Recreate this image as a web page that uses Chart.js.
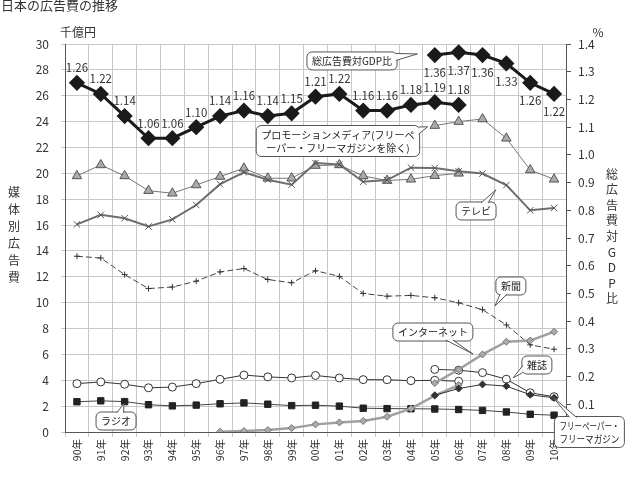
<!DOCTYPE html>
<html>
<head>
<meta charset="utf-8">
<script src="https://cdn.jsdelivr.net/npm/chart.js@4.4.1/dist/chart.umd.min.js"></script>
<style>
  body { margin: 0; background: #fff; }
  #wrap { width: 627px; height: 477px; position: relative; }
</style>
</head>
<body>
<div id="wrap"><canvas id="adChart" width="627" height="477"></canvas></div>
<script>
// 日本の広告費の推移 (千億円 / %)
var years = ['90年', '91年', '92年', '93年', '94年', '95年', '96年', '97年', '98年', '99年',
             '00年', '01年', '02年', '03年', '04年', '05年', '06年', '07年', '08年', '09年', '10年'];

// 総広告費対GDP比 (%), 旧推定 / 新推定
var gdpRatioOld = [1.26, 1.22, 1.14, 1.06, 1.06, 1.10, 1.14, 1.16, 1.14, 1.15, 1.21, 1.22, 1.16, 1.16, 1.18, 1.19, 1.18, null, null, null, null];
var gdpRatioNew = [null, null, null, null, null, null, null, null, null, null, null, null, null, null, null, 1.36, 1.37, 1.36, 1.33, 1.26, 1.22];

// 媒体別広告費 (千億円)
var promoOld = [19.8, 20.65, 19.8, 18.66, 18.46, 19.1, 19.75, 20.39, 19.62, 19.62, 20.6, 20.65, 19.8, 19.44, 19.54, 19.82, 20.0, null, null, null, null];
var promoNew = [null, null, null, null, null, null, null, null, null, null, null, null, null, null, null, 23.69, 24.0, 24.2, 22.71, 20.26, 19.54];
var tv = [16.05, 16.79, 16.53, 15.89, 16.44, 17.55, 19.16, 20.08, 19.51, 19.12, 20.79, 20.68, 19.35, 19.48, 20.44, 20.41, 20.16, 19.98, 19.09, 17.14, 17.32];
var newspaper = [13.59, 13.45, 12.17, 11.09, 11.21, 11.66, 12.38, 12.64, 11.79, 11.54, 12.47, 12.03, 10.71, 10.5, 10.56, 10.38, 9.99, 9.46, 8.28, 6.74, 6.4];
var magazineOld = [3.74, 3.87, 3.69, 3.42, 3.47, 3.74, 4.07, 4.4, 4.26, 4.18, 4.37, 4.18, 4.05, 4.04, 3.97, 4.0, 3.92, null, null, null, null];
var magazineNew = [null, null, null, null, null, null, null, null, null, null, null, null, null, null, null, 4.84, 4.78, 4.59, 4.08, 3.03, 2.73];
var radio = [2.34, 2.41, 2.35, 2.11, 2.02, 2.08, 2.18, 2.25, 2.15, 2.04, 2.07, 2.0, 1.84, 1.81, 1.8, 1.78, 1.74, 1.67, 1.55, 1.37, 1.3];
var internetOld = [null, null, null, null, null, null, 0.02, 0.07, 0.15, 0.3, 0.59, 0.74, 0.85, 1.18, 1.81, 2.81, 3.63, null, null, null, null];
var internetNew = [null, null, null, null, null, null, null, null, null, null, null, null, null, null, null, 3.78, 4.83, 6.0, 6.98, 7.07, 7.75];
var freePaper = [null, null, null, null, null, null, null, null, null, null, null, null, null, null, null, 2.84, 3.36, 3.68, 3.55, 2.88, 2.64];

var jpFont = '"Noto Sans CJK JP", "Noto Sans", sans-serif';
Chart.defaults.font.family = jpFont;
Chart.defaults.color = '#333';

// 吹き出し (x: 年のインデックス, y: 左軸の値)
var callouts = [
    { lines: ['総広告費対GDP比'], x: 11.53, y: 28.69, tipX: 14.27, tipY: 29.23 },
    { lines: ['プロモーションメディア(フリーペ', 'ーパー・フリーマガジンを除く)'], x: 10.94, y: 22.5, tipX: 14.7, tipY: 23.6 },
    { lines: ['テレビ'], x: 16.73, y: 17.09, tipX: 17.56, tipY: 18.72 },
    { lines: ['新聞'], x: 18.19, y: 11.29, tipX: 17.52, tipY: 9.74 },
    { lines: ['インターネット'], x: 14.92, y: 7.73, tipX: 16.6, tipY: 6.03 },
    { lines: ['雑誌'], x: 19.28, y: 5.18, tipX: 18.28, tipY: 4.18 },
    { lines: ['ラジオ'], x: 1.64, y: 0.85, tipX: 1.97, tipY: 2.2 },
    { lines: ['フリーペーパー・', 'フリーマガジン'], x: 21.48, y: 0.0, tipX: 19.95, tipY: 2.7, maxW: 60 }
];

function drawCallout(ctx, c, cx, cy, tx, ty) {
    ctx.save();
    ctx.font = '10px ' + jpFont;
    var w = 0;
    c.lines.forEach(function(l) { w = Math.max(w, ctx.measureText(l).width); });
    if (c.maxW) w = Math.min(w, c.maxW);
    w += 10;
    var lh = 13;
    var h = c.lines.length * lh + 5;
    var x0 = cx - w / 2, y0 = cy - h / 2;

    ctx.beginPath();
    ctx.roundRect(x0, y0, w, h, 5);
    ctx.fillStyle = '#fff';
    ctx.fill();
    ctx.strokeStyle = '#555';
    ctx.lineWidth = 1;
    ctx.stroke();

    // tail base on the edge facing the tip
    var dx = tx - cx, dy = ty - cy;
    var b1, b2;
    if (Math.abs(dx) / (w / 2) > Math.abs(dy) / (h / 2)) {
        var ex = dx > 0 ? x0 + w - 1 : x0 + 1;
        var ey = cy + dy * (w / 2) / Math.abs(dx);
        ey = Math.min(Math.max(ey, y0 + 5), y0 + h - 5);
        b1 = [ex, ey - 3.5]; b2 = [ex, ey + 3.5];
    } else {
        var ey2 = dy > 0 ? y0 + h - 1 : y0 + 1;
        var ex2 = cx + dx * (h / 2) / Math.abs(dy);
        ex2 = Math.min(Math.max(ex2, x0 + 6), x0 + w - 6);
        b1 = [ex2 - 3.5, ey2]; b2 = [ex2 + 3.5, ey2];
    }
    ctx.beginPath();
    ctx.moveTo(b1[0], b1[1]);
    ctx.lineTo(tx, ty);
    ctx.lineTo(b2[0], b2[1]);
    ctx.closePath();
    ctx.fill();
    ctx.beginPath();
    ctx.moveTo(b1[0], b1[1]);
    ctx.lineTo(tx, ty);
    ctx.lineTo(b2[0], b2[1]);
    ctx.stroke();

    ctx.fillStyle = '#222';
    ctx.textAlign = 'center';
    ctx.textBaseline = 'middle';
    c.lines.forEach(function(l, i) {
        if (c.maxW) ctx.fillText(l, cx, y0 + 3 + lh / 2 + i * lh, c.maxW);
        else ctx.fillText(l, cx, y0 + 3 + lh / 2 + i * lh);
    });
    ctx.restore();
}

var decorPlugin = {
    id: 'decor',
    afterDatasetsDraw: function(chart) {
        var ctx = chart.ctx;
        ctx.save();
        ctx.font = '11.5px ' + jpFont;
        ctx.fillStyle = '#333';
        ctx.textAlign = 'center';
        ctx.textBaseline = 'middle';
        // GDP比の数値ラベル
        [0, 1].forEach(function(di) {
            var meta = chart.getDatasetMeta(di);
            var data = chart.data.datasets[di].data;
            meta.data.forEach(function(pt, i) {
                if (data[i] == null) return;
                var off = di === 0 ? -15 : 18;
                ctx.fillText(data[i].toFixed(2), pt.x, pt.y + off);
            });
        });
        ctx.restore();

        var xs = chart.scales.x, ys = chart.scales.y;
        callouts.forEach(function(c) {
            drawCallout(ctx, c, xs.getPixelForValue(c.x), ys.getPixelForValue(c.y),
                        xs.getPixelForValue(c.tipX), ys.getPixelForValue(c.tipY));
        });
    },
    afterDraw: function(chart) {
        var ctx = chart.ctx;
        var area = chart.chartArea;
        ctx.save();
        ctx.fillStyle = '#333';
        ctx.textBaseline = 'top';
        ctx.textAlign = 'left';
        ctx.font = '13px ' + jpFont;
        ctx.fillText('日本の広告費の推移', 1, -1);

        ctx.font = '12px ' + jpFont;
        ctx.textBaseline = 'middle';
        ctx.fillText('千億円', area.left - 5, area.top - 12);
        ctx.textAlign = 'center';
        ctx.fillText('%', area.right + 32, area.top - 12);

        var leftTitle = '媒体別広告費';
        for (var i = 0; i < leftTitle.length; i++) {
            ctx.fillText(leftTitle[i], 14, 192 + i * 17);
        }
        var rightTitle = '総広告費対GDP比';
        for (var j = 0; j < rightTitle.length; j++) {
            ctx.fillText(rightTitle[j], 612, 174 + j * 15.6);
        }
        ctx.restore();
    }
};

var ctx = document.getElementById('adChart').getContext('2d');
var adChart = new Chart(ctx, {
    type: 'line',
    data: {
        labels: years,
        datasets: [
            {
                label: '総広告費対GDP比', data: gdpRatioOld, yAxisID: 'y2',
                borderColor: '#1a1a1a', borderWidth: 3, pointStyle: 'rectRot', pointRadius: 6,
                pointBackgroundColor: '#1a1a1a', pointBorderColor: '#1a1a1a'
            },
            {
                label: '総広告費対GDP比(新)', data: gdpRatioNew, yAxisID: 'y2',
                borderColor: '#1a1a1a', borderWidth: 3, pointStyle: 'rectRot', pointRadius: 6,
                pointBackgroundColor: '#1a1a1a', pointBorderColor: '#1a1a1a'
            },
            {
                label: 'フリーペーパー・フリーマガジン', data: freePaper, yAxisID: 'y',
                borderColor: '#333', borderWidth: 1, pointStyle: 'rectRot', pointRadius: 3.5,
                pointBackgroundColor: '#333', pointBorderColor: '#333'
            },
            {
                label: 'インターネット', data: internetOld, yAxisID: 'y',
                borderColor: '#a0a0a0', borderWidth: 2.5, pointStyle: 'rectRot', pointRadius: 3.5,
                pointBackgroundColor: '#aaa', pointBorderColor: '#777', pointBorderWidth: 1
            },
            {
                label: 'インターネット(新)', data: internetNew, yAxisID: 'y',
                borderColor: '#a0a0a0', borderWidth: 2.5, pointStyle: 'rectRot', pointRadius: 3.5,
                pointBackgroundColor: '#aaa', pointBorderColor: '#777', pointBorderWidth: 1
            },
            {
                label: '雑誌', data: magazineOld, yAxisID: 'y',
                borderColor: '#333', borderWidth: 1, pointStyle: 'circle', pointRadius: 4,
                pointBackgroundColor: '#fff', pointBorderColor: '#333', pointBorderWidth: 1
            },
            {
                label: '雑誌(新)', data: magazineNew, yAxisID: 'y',
                borderColor: '#333', borderWidth: 1, pointStyle: 'circle', pointRadius: 4,
                pointBackgroundColor: '#fff', pointBorderColor: '#333', pointBorderWidth: 1
            },
            {
                label: 'ラジオ', data: radio, yAxisID: 'y',
                borderColor: '#444', borderWidth: 1, pointStyle: 'rect', pointRadius: 4.5,
                pointBackgroundColor: '#222', pointBorderColor: '#222'
            },
            {
                label: '新聞', data: newspaper, yAxisID: 'y',
                borderColor: '#444', borderWidth: 1, borderDash: [6, 3], pointStyle: 'cross', pointRadius: 3,
                pointBorderColor: '#333', pointBorderWidth: 1
            },
            {
                label: 'テレビ', data: tv, yAxisID: 'y',
                borderColor: '#6e6e6e', borderWidth: 2, pointStyle: 'crossRot', pointRadius: 4.5,
                pointBorderColor: '#555', pointBorderWidth: 1
            },
            {
                label: 'プロモーションメディア', data: promoOld, yAxisID: 'y',
                borderColor: '#777', borderWidth: 1, pointStyle: 'triangle', pointRadius: 5.5,
                pointBackgroundColor: '#aaa', pointBorderColor: '#555', pointBorderWidth: 1
            },
            {
                label: 'プロモーションメディア(新)', data: promoNew, yAxisID: 'y',
                borderColor: '#777', borderWidth: 1, pointStyle: 'triangle', pointRadius: 5.5,
                pointBackgroundColor: '#aaa', pointBorderColor: '#555', pointBorderWidth: 1
            }
        ]
    },
    options: {
        responsive: false,
        animation: false,
        layout: { padding: { top: 44, left: 0, right: 0, bottom: 0 } },
        elements: { line: { tension: 0 } },
        plugins: { legend: { display: false }, tooltip: { enabled: false } },
        scales: {
            x: {
                offset: true,
                grid: { offset: true, color: '#c8c8c8', tickLength: 5 },
                border: { color: '#555' },
                ticks: { minRotation: 90, maxRotation: 90, padding: 2, font: { size: 10.5 }, color: '#333' },
                afterFit: function(s) { s.height = 45; }
            },
            y: {
                position: 'left', min: 0, max: 30,
                grid: { color: '#c8c8c8', tickLength: 4 },
                border: { color: '#555' },
                ticks: { stepSize: 2, padding: 12, font: { size: 12 }, color: '#333' },
                afterFit: function(s) { s.width = 65; }
            },
            y2: {
                position: 'right', min: 0, max: 1.4,
                grid: { drawOnChartArea: false, color: '#555', tickLength: 5 },
                border: { color: '#555' },
                ticks: {
                    stepSize: 0.1, padding: 7, font: { size: 12 }, color: '#333',
                    callback: function(v) { return v.toFixed(1); }
                },
                afterFit: function(s) { s.width = 61; }
            }
        }
    },
    plugins: [decorPlugin]
});
</script>
</body>
</html>
